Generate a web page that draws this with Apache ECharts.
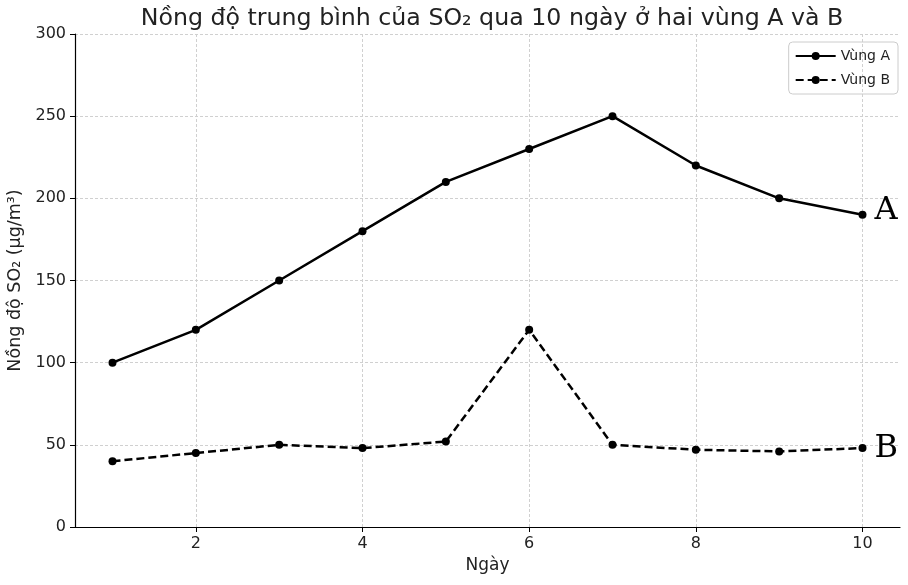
<!DOCTYPE html>
<html><head><meta charset="utf-8">
<script src="https://cdn.jsdelivr.net/npm/echarts@6/dist/echarts.min.js"></script>
<style>html,body{margin:0;padding:0;background:#fff}#c{width:908px;height:585px}</style>
</head><body><div id="c"></div>
<script>
const days = [1,2,3,4,5,6,7,8,9,10];
const vungA = [100,120,150,180,210,230,250,220,200,190];
const vungB = [40,45,50,48,52,120,50,47,46,48];
const xTicks = [2,4,6,8,10];
const yTicks = [0,50,100,150,200,250,300];

const font = 'DejaVu Sans';
function mk(vals, tag, dy){
  return vals.map((v,i)=>{
    const d = {value:[days[i], v]};
    if(i===vals.length-1){
      d.label = {show:true, position:'right', formatter:tag, fontFamily:'DejaVu Serif', fontSize:32, color:'#000', distance:8, offset:[0,dy]};
    }
    return d;
  });
}
const chart = echarts.init(document.getElementById('c'), null, {renderer:'canvas'});
chart.setOption({
  animation:false,
  title:{text:'Nồng độ trung bình của SO₂ qua 10 ngày ở hai vùng A và B', left:487, textAlign:'center', top:2,
    textStyle:{fontFamily:font, fontSize:23.7, fontWeight:'normal', color:'#222'}},
  legend:{right:10, top:42, orient:'vertical', itemWidth:40, itemHeight:10, itemGap:10,
    borderColor:'#ccc', borderWidth:1, borderRadius:4, padding:[7,8,7,6],
    textStyle:{fontFamily:font, fontSize:14, color:'#222'},
    data:['Vùng A','Vùng B']},
  grid:{left:75, right:8, top:34, bottom:58, containLabel:false, outerBoundsMode:'none'},
  xAxis:{type:'value', min:0.55, max:10.45,
    name:'Ngày', nameLocation:'middle', nameGap:30, nameTextStyle:{fontFamily:font, fontSize:17, color:'#222'},
    axisLine:{show:true, onZero:false, lineStyle:{color:'#000', width:1.2}},
    axisTick:{show:true, customValues:xTicks, length:5, lineStyle:{color:'#000'}},
    axisLabel:{customValues:xTicks, fontFamily:font, fontSize:16, color:'#222', margin:9},
    splitLine:{show:true, lineStyle:{color:'#d0d0d0', type:[3,2], width:1}}},
  yAxis:{type:'value', min:0, max:300, interval:50,
    name:'Nồng độ SO₂ (µg/m³)', nameLocation:'middle', nameGap:44, nameTextStyle:{fontFamily:font, fontSize:17.5, color:'#222'},
    axisLine:{show:true, lineStyle:{color:'#000', width:1.2}},
    axisTick:{show:true, length:5, lineStyle:{color:'#000'}},
    axisLabel:{fontFamily:font, fontSize:16, color:'#222', margin:9},
    splitLine:{show:true, lineStyle:{color:'#d0d0d0', type:[3,2], width:1}}},
  series:[
    {name:'Vùng A', type:'line', data:mk(vungA,'A',-4), symbol:'circle', symbolSize:8,
      lineStyle:{color:'#000', width:2.5}, itemStyle:{color:'#000'}},
    {name:'Vùng B', type:'line', data:mk(vungB,'B',1), symbol:'circle', symbolSize:8,
      lineStyle:{color:'#000', width:2.5, type:[8,4]}, itemStyle:{color:'#000'}}
  ]
});
</script></body></html>
